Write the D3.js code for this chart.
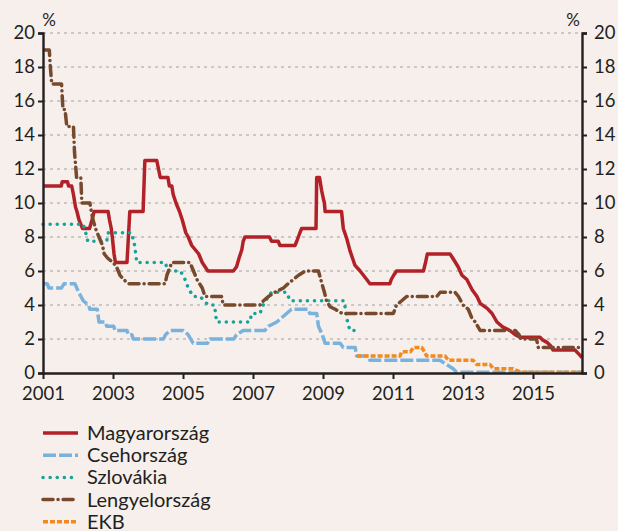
<!DOCTYPE html>
<html>
<head>
<meta charset="utf-8">
<script src="https://cdn.jsdelivr.net/npm/d3@7"></script>
<style>
  html, body { margin: 0; padding: 0; background: #f6efeb; }
  svg { display: block; font-family: Lato, "Open Sans", sans-serif; }
</style>
</head>
<body>
<div id="chart"></div>
<script>
// policy rates, % (vertices as [year, rate])
const magyarorszag = [[2001.00,11.0],[2001.52,11.0],[2001.55,11.25],[2001.70,11.25],[2001.73,11.0],[2001.82,11.0],[2001.87,10.5],[2001.93,9.75],[2001.97,9.5],[2002.03,9.0],[2002.08,8.75],[2002.13,8.5],[2002.33,8.5],[2002.40,9.0],[2002.46,9.5],[2002.86,9.5],[2002.90,9.0],[2002.95,8.5],[2002.98,8.0],[2003.03,7.0],[2003.07,6.5],[2003.40,6.5],[2003.48,9.5],[2003.86,9.5],[2003.91,12.5],[2004.25,12.5],[2004.30,12.0],[2004.35,11.5],[2004.57,11.5],[2004.61,11.0],[2004.68,11.0],[2004.72,10.5],[2004.80,10.0],[2004.90,9.5],[2004.98,9.0],[2005.08,8.25],[2005.15,8.0],[2005.25,7.5],[2005.35,7.25],[2005.45,7.0],[2005.55,6.5],[2005.63,6.25],[2005.71,6.0],[2006.44,6.0],[2006.53,6.25],[2006.60,6.75],[2006.68,7.25],[2006.72,7.75],[2006.77,8.0],[2007.47,8.0],[2007.53,7.75],[2007.72,7.75],[2007.77,7.5],[2008.20,7.5],[2008.25,7.75],[2008.34,8.25],[2008.39,8.5],[2008.80,8.5],[2008.82,11.5],[2008.90,11.5],[2008.96,10.75],[2009.01,10.25],[2009.04,10.0],[2009.06,9.5],[2009.53,9.5],[2009.58,8.5],[2009.68,7.9],[2009.77,7.2],[2009.91,6.35],[2010.06,6.0],[2010.25,5.5],[2010.34,5.25],[2010.91,5.25],[2010.95,5.5],[2011.02,5.75],[2011.10,6.0],[2011.87,6.0],[2011.93,6.5],[2011.98,7.0],[2012.63,7.0],[2012.71,6.75],[2012.86,6.25],[2012.97,5.75],[2013.11,5.5],[2013.26,4.9],[2013.40,4.5],[2013.49,4.1],[2013.69,3.8],[2013.83,3.5],[2013.97,3.0],[2014.14,2.7],[2014.34,2.5],[2014.49,2.25],[2014.63,2.1],[2015.20,2.1],[2015.27,1.95],[2015.40,1.8],[2015.48,1.65],[2015.54,1.5],[2015.57,1.35],[2016.20,1.35],[2016.27,1.2],[2016.34,1.05],[2016.40,0.9]];
const csehorszag = [[2001.00,5.25],[2001.12,5.25],[2001.17,5.0],[2001.53,5.0],[2001.60,5.25],[2001.91,5.25],[2002.02,4.75],[2002.15,4.25],[2002.30,4.0],[2002.34,3.75],[2002.55,3.75],[2002.60,3.0],[2002.78,3.0],[2002.82,2.75],[2003.02,2.75],[2003.06,2.5],[2003.40,2.5],[2003.44,2.25],[2003.54,2.25],[2003.58,2.0],[2004.44,2.0],[2004.50,2.25],[2004.63,2.5],[2005.01,2.5],[2005.15,2.25],[2005.29,1.75],[2005.70,1.75],[2005.77,2.0],[2006.45,2.0],[2006.53,2.25],[2006.72,2.5],[2007.34,2.5],[2007.44,2.75],[2007.68,3.0],[2007.82,3.25],[2007.96,3.5],[2008.10,3.75],[2008.58,3.75],[2008.62,3.5],[2008.82,3.5],[2008.87,2.75],[2008.98,2.25],[2009.06,1.75],[2009.49,1.75],[2009.58,1.5],[2009.92,1.5],[2009.96,1.0],[2010.30,1.0],[2010.34,0.75],[2012.34,0.75],[2012.45,0.6],[2012.53,0.5],[2012.72,0.25],[2012.82,0.05],[2016.40,0.05]];
const szlovakia = [[2001.00,8.75],[2002.15,8.75],[2002.22,8.25],[2002.28,7.75],[2002.82,7.75],[2002.87,8.25],[2003.53,8.25],[2003.62,7.5],[2003.68,6.5],[2004.50,6.5],[2004.55,6.0],[2004.93,6.0],[2005.06,5.5],[2005.15,5.0],[2005.29,4.5],[2005.49,4.5],[2005.72,4.0],[2005.90,4.0],[2005.96,3.0],[2006.91,3.0],[2006.96,3.5],[2007.20,3.5],[2007.29,4.0],[2007.44,4.5],[2007.53,4.75],[2007.96,4.75],[2008.06,4.25],[2009.60,4.25],[2009.70,3.0],[2009.77,2.5],[2009.96,2.5]];
const lengyelorszag = [[2001.05,19.0],[2001.18,19.0],[2001.21,18.0],[2001.25,17.0],[2001.53,17.0],[2001.57,15.5],[2001.63,15.5],[2001.68,14.5],[2001.87,14.5],[2001.90,13.0],[2001.96,11.5],[2002.08,11.5],[2002.11,10.0],[2002.34,10.0],[2002.38,9.5],[2002.43,9.0],[2002.50,8.5],[2002.60,8.0],[2002.70,7.5],[2002.75,7.0],[2002.85,6.75],[2003.00,6.5],[2003.10,6.25],[2003.20,5.75],[2003.30,5.5],[2003.45,5.25],[2004.49,5.25],[2004.54,5.75],[2004.68,6.5],[2005.20,6.5],[2005.30,6.0],[2005.40,5.5],[2005.55,5.0],[2005.63,4.5],[2006.10,4.5],[2006.15,4.0],[2007.20,4.0],[2007.30,4.25],[2007.44,4.5],[2007.63,4.75],[2007.87,5.0],[2008.00,5.25],[2008.15,5.5],[2008.30,5.75],[2008.49,6.0],[2008.87,6.0],[2008.97,5.25],[2009.04,4.75],[2009.10,4.25],[2009.20,3.9],[2009.35,3.75],[2009.55,3.5],[2011.01,3.5],[2011.10,4.0],[2011.25,4.25],[2011.39,4.5],[2012.25,4.5],[2012.35,4.75],[2012.77,4.75],[2012.87,4.5],[2013.00,4.0],[2013.15,3.75],[2013.25,3.25],[2013.35,3.0],[2013.49,2.5],[2014.49,2.5],[2014.60,2.25],[2014.65,2.0],[2015.10,2.0],[2015.15,1.5],[2016.40,1.5]];
const ekb = [[2009.96,1.0],[2011.20,1.0],[2011.25,1.25],[2011.50,1.25],[2011.58,1.5],[2011.82,1.5],[2011.90,1.25],[2011.96,1.0],[2012.49,1.0],[2012.58,0.75],[2013.29,0.75],[2013.39,0.5],[2013.77,0.5],[2013.87,0.25],[2014.43,0.25],[2014.53,0.15],[2014.65,0.05],[2016.40,0.05]];

const seriesNames = ["Magyarország", "Csehország", "Szlovákia", "Lengyelország", "EKB"];
const seriesData = [magyarorszag, csehorszag, szlovakia, lengyelorszag, ekb];
const xTicks = [2001, 2003, 2005, 2007, 2009, 2011, 2013, 2015];
const yTicks = [0, 2, 4, 6, 8, 10, 12, 14, 16, 18, 20];

const styles = [
  { color: "#b32128", width: 3.5, dash: null, cap: "butt" },
  { color: "#7ab2de", width: 3.5, dash: "13,3", cap: "butt" },
  { color: "#17a398", width: 3.5, dash: "0.1,7", cap: "round" },
  { color: "#774a2d", width: 3.5, dash: "10,5,0.1,5", cap: "round" },
  { color: "#f28a1e", width: 3.5, dash: "5,2", cap: "butt" }
];

const width = 618, height = 531;
const margin = { top: 33, right: 36, bottom: 158, left: 43 };
const innerW = width - margin.left - margin.right;
const innerH = height - margin.top - margin.bottom;
const axisColor = "#231f20";

const x = d3.scaleLinear().domain([2001, 2016.4]).range([0, innerW]);
const y = d3.scaleLinear().domain([0, 20]).range([innerH, 0]);

const svg = d3.select("#chart").append("svg")
  .attr("width", width)
  .attr("height", height);

svg.append("rect").attr("width", width).attr("height", height).attr("fill", "#f6efeb");

const g = svg.append("g").attr("transform", `translate(${margin.left},${margin.top})`);

// dotted grid
g.append("g").selectAll("line")
  .data(yTicks.filter(d => d > 0))
  .enter().append("line")
  .attr("x1", 0).attr("x2", innerW)
  .attr("y1", d => y(d)).attr("y2", d => y(d))
  .attr("stroke", "#a3a09e")
  .attr("stroke-width", 1)
  .attr("stroke-dasharray", "3,4");

// series
const line = d3.line().x(d => x(d[0])).y(d => y(d[1]));
seriesData.forEach((data, i) => {
  const s = styles[i];
  g.append("path")
    .datum(data)
    .attr("d", line)
    .attr("fill", "none")
    .attr("stroke", s.color)
    .attr("stroke-width", s.width)
    .attr("stroke-linejoin", "round")
    .attr("stroke-linecap", s.cap)
    .attr("stroke-dasharray", s.dash);
});

// axes
function styleAxis(sel) {
  sel.select(".domain").attr("stroke", axisColor).attr("stroke-width", 2.4);
  sel.selectAll(".tick line").attr("stroke", axisColor).attr("stroke-width", 2);
  sel.selectAll(".tick text").attr("fill", axisColor).style("font-size", "18.5px").style("font-family", "Lato, 'Open Sans', sans-serif");
}

g.append("g")
  .attr("transform", `translate(0,${innerH})`)
  .call(d3.axisBottom(x).tickValues(xTicks).tickFormat(d3.format("d")).tickSize(6).tickSizeOuter(0).tickPadding(8))
  .call(styleAxis);

g.append("g")
  .call(d3.axisLeft(y).tickValues(yTicks).tickSize(5).tickSizeOuter(5).tickPadding(3))
  .call(styleAxis);

g.append("g")
  .attr("transform", `translate(${innerW},0)`)
  .call(d3.axisRight(y).tickValues(yTicks).tickSize(5).tickSizeOuter(5).tickPadding(7))
  .call(styleAxis);

svg.append("text").attr("x", 49).attr("y", 26).attr("text-anchor", "middle")
  .attr("fill", axisColor).style("font-size", "17px").text("%");
svg.append("text").attr("x", 573).attr("y", 26).attr("text-anchor", "middle")
  .attr("fill", axisColor).style("font-size", "17px").text("%");

// legend
const legend = svg.append("g").attr("transform", "translate(42,433)");
seriesNames.forEach((name, i) => {
  const s = styles[i];
  const row = legend.append("g").attr("transform", `translate(0,${i * 22.2})`);
  row.append("line")
    .attr("x1", 1).attr("x2", 36).attr("y1", 0).attr("y2", 0)
    .attr("stroke", s.color)
    .attr("stroke-width", s.width)
    .attr("stroke-linecap", s.cap)
    .attr("stroke-dasharray", s.dash);
  row.append("text")
    .attr("x", 45).attr("y", 0).attr("dy", "0.35em")
    .attr("fill", axisColor)
    .style("font-size", "20px")
    .text(name);
});
</script>
</body>
</html>
